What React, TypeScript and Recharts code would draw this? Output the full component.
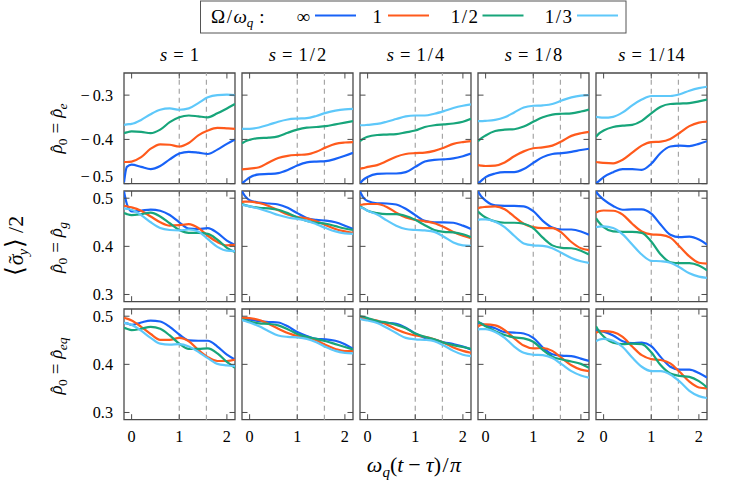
import React from 'react';
import { LineChart, Line, XAxis, YAxis, ReferenceLine, ReferenceArea } from 'recharts';

// ---------- data ----------
const X = [-0.16, -0.1, 0, 0.2, 0.4, 0.6, 0.8, 1.0, 1.2, 1.4, 1.6, 1.8, 2.0, 2.17];
const SERIES_KEYS = ['inf', 'one', 'half', 'third'];
const SERIES_LABELS = ['∞', '1', '1/2', '1/3'];
const COLORS = ['#1862f7', '#ff5a1c', '#17a57a', '#5ec8fa'];
const S_LABELS = ['1', '1/2', '1/4', '1/8', '1/14'];
const X_TICKS = [0, 1, 2];
const DASH_X = [1, 1.57];
const Y_TICKS_E = [-0.5, -0.4, -0.3];
const Y_TICKS_G = [0.3, 0.4, 0.5];

// rho_0 = rho_e
const E_S1 = [
  [-0.497, -0.462, -0.457, -0.462, -0.467, -0.46, -0.445, -0.432, -0.428, -0.43, -0.433, -0.423, -0.41, -0.4],
  [-0.451, -0.451, -0.45, -0.44, -0.421, -0.411, -0.412, -0.416, -0.408, -0.391, -0.38, -0.374, -0.375, -0.376],
  [-0.386, -0.384, -0.382, -0.383, -0.386, -0.378, -0.361, -0.35, -0.346, -0.348, -0.35, -0.341, -0.33, -0.32],
  [-0.367, -0.366, -0.365, -0.356, -0.343, -0.333, -0.33, -0.333, -0.33, -0.318, -0.305, -0.3, -0.299, -0.3],
];
const E_S2 = [
  [-0.499, -0.494, -0.486, -0.479, -0.478, -0.476, -0.469, -0.459, -0.452, -0.45, -0.449, -0.444, -0.437, -0.43],
  [-0.4675, -0.467, -0.466, -0.463, -0.452, -0.442, -0.437, -0.435, -0.434, -0.428, -0.418, -0.41, -0.407, -0.406],
  [-0.409, -0.405, -0.401, -0.397, -0.396, -0.393, -0.385, -0.378, -0.3735, -0.372, -0.37, -0.366, -0.362, -0.3585],
  [-0.376, -0.376, -0.376, -0.373, -0.367, -0.36, -0.355, -0.353, -0.352, -0.347, -0.34, -0.335, -0.332, -0.331],
];
const E_S4 = [
  [-0.499, -0.492, -0.485, -0.478, -0.477, -0.477, -0.474, -0.462, -0.45, -0.446, -0.445, -0.443, -0.438, -0.432],
  [-0.466, -0.465, -0.462, -0.458, -0.449, -0.439, -0.433, -0.431, -0.43, -0.426, -0.419, -0.41, -0.406, -0.404],
  [-0.404, -0.399, -0.394, -0.39, -0.389, -0.388, -0.384, -0.38, -0.372, -0.368, -0.366, -0.364, -0.36, -0.3535],
  [-0.368, -0.368, -0.367, -0.365, -0.36, -0.354, -0.348, -0.346, -0.346, -0.342, -0.336, -0.329, -0.324, -0.321],
];
const E_S8 = [
  [-0.499, -0.494, -0.485, -0.477, -0.474, -0.474, -0.467, -0.453, -0.44, -0.433, -0.431, -0.428, -0.424, -0.421],
  [-0.458, -0.459, -0.46, -0.459, -0.452, -0.438, -0.427, -0.42, -0.418, -0.414, -0.404, -0.392, -0.386, -0.383],
  [-0.404, -0.398, -0.391, -0.381, -0.378, -0.377, -0.371, -0.36, -0.35, -0.344, -0.342, -0.341, -0.337, -0.3325],
  [-0.3585, -0.3585, -0.358, -0.356, -0.35, -0.339, -0.328, -0.324, -0.323, -0.32, -0.312, -0.305, -0.301, -0.3],
];
const E_S14 = [
  [-0.499, -0.494, -0.485, -0.474, -0.467, -0.467, -0.469, -0.455, -0.43, -0.416, -0.414, -0.415, -0.41, -0.404],
  [-0.451, -0.452, -0.453, -0.454, -0.446, -0.43, -0.414, -0.406, -0.405, -0.399, -0.385, -0.37, -0.362, -0.36],
  [-0.394, -0.387, -0.38, -0.372, -0.369, -0.367, -0.358, -0.341, -0.326, -0.32, -0.319, -0.318, -0.314, -0.31],
  [-0.349, -0.35, -0.351, -0.349, -0.339, -0.323, -0.31, -0.302, -0.302, -0.302, -0.298, -0.29, -0.284, -0.281],
];

// rho_0 = rho_g
const G_S1 = [
  [0.514, 0.488, 0.4725, 0.474, 0.4765, 0.474, 0.465, 0.45, 0.437, 0.436, 0.438, 0.428, 0.412, 0.403],
  [0.484, 0.483, 0.481, 0.474, 0.462, 0.45, 0.443, 0.444, 0.446, 0.438, 0.422, 0.409, 0.402, 0.403],
  [0.469, 0.467, 0.465, 0.467, 0.47, 0.462, 0.448, 0.434, 0.428, 0.428, 0.426, 0.414, 0.397, 0.388],
  [0.479, 0.478, 0.476, 0.465, 0.45, 0.438, 0.434, 0.433, 0.435, 0.431, 0.415, 0.399, 0.391, 0.39],
];
const G_S2 = [
  [0.514, 0.505, 0.496, 0.491, 0.489, 0.487, 0.48, 0.469, 0.459, 0.455, 0.4535, 0.45, 0.443, 0.436],
  [0.4925, 0.493, 0.493, 0.49, 0.484, 0.475, 0.466, 0.461, 0.458, 0.452, 0.444, 0.436, 0.431, 0.428],
  [0.488, 0.486, 0.483, 0.48, 0.479, 0.476, 0.469, 0.46, 0.453, 0.449, 0.447, 0.442, 0.437, 0.434],
  [0.486, 0.485, 0.483, 0.478, 0.472, 0.465, 0.46, 0.457, 0.453, 0.446, 0.438, 0.431, 0.427, 0.426],
];
const G_S4 = [
  [0.514, 0.503, 0.494, 0.4895, 0.489, 0.487, 0.478, 0.465, 0.453, 0.45, 0.45, 0.449, 0.443, 0.436],
  [0.486, 0.487, 0.488, 0.488, 0.482, 0.47, 0.46, 0.455, 0.452, 0.448, 0.44, 0.43, 0.422, 0.417],
  [0.483, 0.48, 0.474, 0.469, 0.467, 0.467, 0.463, 0.455, 0.444, 0.434, 0.43, 0.429, 0.425, 0.419],
  [0.481, 0.479, 0.474, 0.466, 0.454, 0.443, 0.436, 0.434, 0.433, 0.43, 0.42, 0.408, 0.402, 0.401],
];
const G_S8 = [
  [0.514, 0.505, 0.495, 0.485, 0.484, 0.484, 0.483, 0.473, 0.453, 0.439, 0.435, 0.435, 0.431, 0.424],
  [0.479, 0.481, 0.482, 0.483, 0.477, 0.462, 0.447, 0.44, 0.438, 0.438, 0.428, 0.409, 0.396, 0.392],
  [0.4725, 0.467, 0.46, 0.452, 0.449, 0.449, 0.447, 0.438, 0.418, 0.402, 0.397, 0.396, 0.391, 0.383],
  [0.455, 0.456, 0.456, 0.451, 0.44, 0.422, 0.406, 0.402, 0.401, 0.396, 0.386, 0.376, 0.369, 0.3655],
];
const G_S14 = [
  [0.514, 0.506, 0.497, 0.484, 0.476, 0.477, 0.477, 0.468, 0.445, 0.424, 0.419, 0.42, 0.414, 0.4035],
  [0.47, 0.473, 0.4745, 0.474, 0.466, 0.447, 0.431, 0.425, 0.424, 0.418, 0.399, 0.379, 0.366, 0.364],
  [0.4585, 0.45, 0.44, 0.431, 0.43, 0.43, 0.428, 0.41, 0.383, 0.367, 0.365, 0.365, 0.36, 0.35],
  [0.44, 0.441, 0.4415, 0.438, 0.425, 0.404, 0.383, 0.37, 0.369, 0.366, 0.356, 0.344, 0.337, 0.3345],
];

// rho_0 = rho_eq
const EQ_S1 = [
  [0.486, 0.485, 0.482, 0.487, 0.491, 0.489, 0.478, 0.462, 0.45, 0.449, 0.449, 0.437, 0.42, 0.41],
  [0.4965, 0.495, 0.491, 0.478, 0.463, 0.451, 0.451, 0.455, 0.448, 0.43, 0.415, 0.407, 0.407, 0.41],
  [0.476, 0.474, 0.471, 0.474, 0.478, 0.474, 0.46, 0.443, 0.432, 0.432, 0.433, 0.423, 0.405, 0.393],
  [0.486, 0.485, 0.482, 0.47, 0.455, 0.443, 0.441, 0.442, 0.437, 0.426, 0.413, 0.401, 0.398, 0.3965],
];
const EQ_S2 = [
  [0.495, 0.494, 0.493, 0.49, 0.488, 0.487, 0.479, 0.467, 0.459, 0.453, 0.452, 0.449, 0.442, 0.4325],
  [0.4965, 0.4965, 0.496, 0.492, 0.484, 0.474, 0.465, 0.459, 0.456, 0.45, 0.44, 0.432, 0.4275, 0.4275],
  [0.493, 0.492, 0.489, 0.485, 0.484, 0.481, 0.473, 0.463, 0.457, 0.453, 0.448, 0.442, 0.436, 0.431],
  [0.492, 0.49, 0.487, 0.479, 0.469, 0.46, 0.457, 0.456, 0.453, 0.446, 0.436, 0.428, 0.424, 0.423],
];
const EQ_S4 = [
  [0.498, 0.497, 0.495, 0.4875, 0.486, 0.484, 0.476, 0.464, 0.455, 0.451, 0.446, 0.442, 0.437, 0.431],
  [0.4965, 0.496, 0.494, 0.491, 0.483, 0.473, 0.465, 0.46, 0.457, 0.452, 0.445, 0.435, 0.428, 0.424],
  [0.5, 0.499, 0.496, 0.49, 0.487, 0.482, 0.475, 0.464, 0.457, 0.452, 0.445, 0.44, 0.436, 0.432],
  [0.4945, 0.493, 0.491, 0.486, 0.476, 0.465, 0.455, 0.452, 0.451, 0.448, 0.439, 0.428, 0.42, 0.417],
];
const EQ_S8 = [
  [0.486, 0.485, 0.481, 0.475, 0.467, 0.466, 0.464, 0.455, 0.435, 0.421, 0.418, 0.417, 0.412, 0.407],
  [0.479, 0.482, 0.483, 0.481, 0.471, 0.454, 0.439, 0.433, 0.434, 0.428, 0.413, 0.398, 0.389, 0.386],
  [0.4895, 0.485, 0.479, 0.469, 0.461, 0.456, 0.454, 0.447, 0.43, 0.416, 0.41, 0.406, 0.401, 0.393],
  [0.4725, 0.473, 0.473, 0.467, 0.455, 0.437, 0.424, 0.42, 0.419, 0.413, 0.4, 0.386, 0.377, 0.3725],
];
const EQ_S14 = [
  [0.471, 0.47, 0.468, 0.46, 0.448, 0.444, 0.445, 0.438, 0.415, 0.395, 0.389, 0.389, 0.382, 0.3725],
  [0.4655, 0.468, 0.469, 0.467, 0.457, 0.437, 0.419, 0.411, 0.409, 0.402, 0.384, 0.364, 0.352, 0.35],
  [0.479, 0.469, 0.458, 0.445, 0.442, 0.443, 0.442, 0.425, 0.398, 0.381, 0.376, 0.374, 0.365, 0.352],
  [0.448, 0.451, 0.453, 0.449, 0.436, 0.414, 0.395, 0.386, 0.386, 0.379, 0.364, 0.345, 0.334, 0.33],
];

const ROWS = [
  [E_S1, E_S2, E_S4, E_S8, E_S14],
  [G_S1, G_S2, G_S4, G_S8, G_S14],
  [EQ_S1, EQ_S2, EQ_S4, EQ_S8, EQ_S14],
];

// ---------- layout ----------
const FONT = "'Liberation Serif', 'Times New Roman', Times, serif";
const TXT = { fontFamily: FONT };
const INK = '#000';
const FRAME = '#4a4a4a';
const X_DOMAIN: [number, number] = [-0.16, 2.17];
const Y_DOMAIN_E: [number, number] = [-0.5, -0.25];
const Y_DOMAIN_G: [number, number] = [0.285, 0.515];
const PW = 111;
const PH = 110.7;
const COL_LEFT = [124, 242, 360, 478, 596];
const ROW_TOP = [73.3, 191.3, 309.3];
const AXIS_W = 60;
const AXIS_H = 36;
const PAD_T = 5;
const PAD_R = 5;
const TICK = 5.5;
const TICK_FS = 16.2;

const makeXTick = (showLabel: boolean) => (props: any) => {
  const cx = props.payload && props.payload.coordinate != null ? props.payload.coordinate : props.x;
  const bottom = PAD_T + PH;
  return (
    <g>
      <line x1={cx} x2={cx} y1={bottom} y2={bottom - TICK} stroke={FRAME} strokeWidth={1} />
      <line x1={cx} x2={cx} y1={PAD_T} y2={PAD_T + TICK} stroke={FRAME} strokeWidth={1} />
      {showLabel && (
        <text x={cx} y={bottom + 22.5} textAnchor="middle" fontSize={TICK_FS} style={TXT} fill={INK}>
          {String(props.payload.value)}
        </text>
      )}
    </g>
  );
};

const makeYTick = (showLabel: boolean, bottomValue: number) => (props: any) => {
  const cy = props.payload && props.payload.coordinate != null ? props.payload.coordinate : props.y;
  const v: number = props.payload.value;
  const shift = Math.abs(v - bottomValue) < 1e-9 ? -7.5 : 0;
  const body = Math.abs(v).toFixed(1);
  return (
    <g>
      <line x1={AXIS_W} x2={AXIS_W + TICK} y1={cy} y2={cy} stroke={FRAME} strokeWidth={1} />
      <line x1={AXIS_W + PW - TICK} x2={AXIS_W + PW} y1={cy} y2={cy} stroke={FRAME} strokeWidth={1} />
      {showLabel && (
        <text x={AXIS_W - 11} y={cy + 5.5 + shift} textAnchor="end" fontSize={TICK_FS} style={TXT} fill={INK}>
          {v < 0 ? (
            <>
              <tspan>−</tspan>
              <tspan dx={3}>{body}</tspan>
            </>
          ) : (
            body
          )}
        </text>
      )}
    </g>
  );
};

function Panel({ row, col, series }: { row: number; col: number; series: number[][] }) {
  const yDomain = row === 0 ? Y_DOMAIN_E : Y_DOMAIN_G;
  const yTicks = row === 0 ? Y_TICKS_E : Y_TICKS_G;
  const data = X.map((x, i) => {
    const o: any = { x };
    SERIES_KEYS.forEach((k, j) => {
      o[k] = series[j][i];
    });
    return o;
  });
  return (
    <div style={{ position: 'absolute', left: COL_LEFT[col] - AXIS_W, top: ROW_TOP[row] - PAD_T }}>
      <LineChart
        width={AXIS_W + PW + PAD_R}
        height={PAD_T + PH + AXIS_H}
        data={data}
        margin={{ top: PAD_T, right: PAD_R, bottom: 0, left: 0 }}
      >
        <XAxis
          dataKey="x"
          type="number"
          domain={X_DOMAIN}
          ticks={X_TICKS}
          allowDataOverflow
          height={AXIS_H}
          axisLine={false}
          tickLine={false}
          tickSize={0}
          tickMargin={0}
          interval={0}
          tick={makeXTick(row === 2)}
        />
        <YAxis
          type="number"
          domain={yDomain}
          ticks={yTicks}
          allowDataOverflow
          width={AXIS_W}
          axisLine={false}
          tickLine={false}
          tickSize={0}
          tickMargin={0}
          interval={0}
          tick={makeYTick(col === 0, row === 0 ? Y_DOMAIN_E[0] : 999)}
        />
        {DASH_X.map((dx) => (
          <ReferenceLine key={dx} x={dx} stroke="#a6a6a6" strokeWidth={1.2} strokeDasharray="5 4" />
        ))}
        {SERIES_KEYS.map((k, i) => (
          <Line
            key={k}
            dataKey={k}
            type="monotone"
            stroke={COLORS[i]}
            strokeWidth={2.2}
            dot={false}
            activeDot={false}
            isAnimationActive={false}
          />
        ))}
        <ReferenceArea
          x1={X_DOMAIN[0]}
          x2={X_DOMAIN[1]}
          y1={yDomain[0]}
          y2={yDomain[1]}
          fill="none"
          fillOpacity={0}
          stroke={FRAME}
          strokeWidth={1.3}
          ifOverflow="visible"
        />
      </LineChart>
    </div>
  );
}

// fraction like "1/14" with a wide math slash
function Frac({ s, gap }: { s: string; gap: number }) {
  const parts = s.split('/');
  if (parts.length === 1) return <tspan>{s}</tspan>;
  return (
    <>
      <tspan>{parts[0]}</tspan>
      <tspan dx={gap}>/</tspan>
      <tspan dx={gap}>{parts[1]}</tspan>
    </>
  );
}

const ROW_LABEL_CY = [128.5, 247.5, 366];
const ROW_LABEL_SUB = ['e', 'g', 'eq'];
const LEGEND_TEXT_END = [310, 382, 478, 572];
const LEGEND_LINE_X = [315, 388, 482.5, 577];

function Overlay() {
  return (
    <svg width={756} height={484} style={{ position: 'absolute', left: 0, top: 0, pointerEvents: 'none', ...TXT }} fill={INK}>
      {/* legend */}
      <rect x={200.5} y={1} width={425.5} height={32} fill="#fff" stroke="#555" strokeWidth={1} />
      <text x={211} y={22.5} fontSize={19} style={TXT}>
        <tspan>Ω</tspan>
        <tspan dx={1.5}>/</tspan>
        <tspan dx={1.5} fontStyle="italic">ω</tspan>
        <tspan fontSize={13} fontStyle="italic" dy={4}>q</tspan>
        <tspan dy={-4} dx={6}>:</tspan>
      </text>
      {SERIES_LABELS.map((lab, i) => (
        <g key={lab}>
          <text x={LEGEND_TEXT_END[i]} y={22.5} fontSize={19} textAnchor="end" style={TXT}>
            <Frac s={lab} gap={1.5} />
          </text>
          <line x1={LEGEND_LINE_X[i]} x2={LEGEND_LINE_X[i] + 41} y1={15.5} y2={15.5} stroke={COLORS[i]} strokeWidth={2.2} />
        </g>
      ))}

      {/* column titles */}
      {S_LABELS.map((s, c) => (
        <text key={s} x={COL_LEFT[c] + PW / 2} y={60.5} fontSize={18.5} textAnchor="middle" style={TXT}>
          <tspan fontStyle="italic">s</tspan>
          <tspan dx={6}>=</tspan>
          <tspan dx={6}>
            <Frac s={s} gap={2} />
          </tspan>
        </text>
      ))}

      {/* row labels */}
      {ROW_LABEL_SUB.map((sb, r) => {
        const cx = 56;
        const cy = ROW_LABEL_CY[r];
        return (
          <text key={sb} x={cx} y={cy + 6} fontSize={19} textAnchor="middle" transform={`rotate(-90 ${cx} ${cy})`} style={TXT}>
            <tspan fontStyle="italic">ρ</tspan>
            <tspan dx={-7} fontSize={17}>ˆ</tspan>
            <tspan fontSize={13.5} dy={4.5} dx={0.5}>0</tspan>
            <tspan dy={-4.5} dx={5}>=</tspan>
            <tspan dx={5} fontStyle="italic">ρ</tspan>
            <tspan dx={-7} fontSize={17}>ˆ</tspan>
            <tspan fontSize={13.5} fontStyle="italic" dy={4.5} dx={0.5}>{sb}</tspan>
          </text>
        );
      })}

      {/* global y label */}
      <text x={15} y={246 + 7.5} fontSize={22} textAnchor="middle" transform="rotate(-90 15 246)" style={TXT}>
        <tspan fontSize={25}>⟨</tspan>
        <tspan fontStyle="italic" dx={1}>σ</tspan>
        <tspan dx={-9}>˜</tspan>
        <tspan fontSize={15} fontStyle="italic" dy={5} dx={0.5}>y</tspan>
        <tspan dy={-5} fontSize={25} dx={1}>⟩</tspan>
        <tspan dx={5}>/2</tspan>
      </text>

      {/* global x label */}
      <text x={414} y={472} fontSize={22} textAnchor="middle" style={TXT}>
        <tspan fontStyle="italic">ω</tspan>
        <tspan fontSize={15} fontStyle="italic" dy={5}>q</tspan>
        <tspan dy={-5}>(</tspan>
        <tspan fontStyle="italic">t</tspan>
        <tspan dx={5}>−</tspan>
        <tspan dx={5} fontStyle="italic">τ</tspan>
        <tspan>)</tspan>
        <tspan dx={1.5}>/</tspan>
        <tspan dx={1.5} fontStyle="italic">π</tspan>
      </text>
    </svg>
  );
}

export default function App() {
  return (
    <div style={{ position: 'absolute', left: 0, top: 0, width: 756, height: 484, background: '#fff', overflow: 'hidden', ...TXT }}>
      {ROWS.map((panels, r) => panels.map((p, c) => <Panel key={`${r}-${c}`} row={r} col={c} series={p} />))}
      <Overlay />
    </div>
  );
}
